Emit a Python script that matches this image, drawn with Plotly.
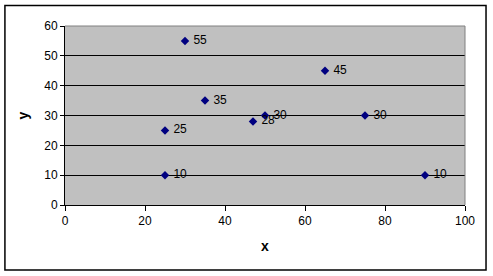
import plotly.graph_objects as go

x_vals = [25, 25, 30, 35, 47, 50, 65, 75, 90]
y_vals = [10, 25, 55, 35, 28, 30, 45, 30, 10]
point_labels = ["\u00a0" + str(v) for v in y_vals]

FONT = "Liberation Sans, Arial, sans-serif"

fig = go.Figure()
fig.add_trace(go.Scatter(
    x=x_vals, y=y_vals, mode="markers+text",
    marker=dict(symbol="diamond", size=6.5, color="#000080"),
    text=point_labels, textposition="middle right",
    textfont=dict(family=FONT, size=12, color="#000000"),
    cliponaxis=False, showlegend=False,
))

L, R, T, B = 65.5, 465, 26, 205
W, H = R - L, B - T
def px_x(p):
    return (p - L) / W
def px_y(p):
    return (B - p) / H

fig.update_layout(
    width=493, height=276,
    margin=dict(l=65, r=28, t=26, b=71, pad=0),
    paper_bgcolor="white", plot_bgcolor="#C0C0C0",
    font=dict(family=FONT, size=12, color="#000000"),
    xaxis=dict(range=[0, 100], tickvals=[0, 20, 40, 60, 80, 100],
               showgrid=False, zeroline=False, showline=True, linecolor="#000000", linewidth=1,
               ticks="outside", ticklen=5, tickcolor="#000000",
               tickfont=dict(size=12),
               title=dict(text="<b>x</b>", font=dict(size=14), standoff=13)),
    yaxis=dict(range=[0, 60], tickvals=[0, 10, 20, 30, 40, 50, 60],
               showgrid=True, gridcolor="#000000", gridwidth=1, zeroline=False,
               showline=True, linecolor="#000000", linewidth=1,
               ticks="outside", ticklen=4, tickcolor="#000000",
               tickfont=dict(size=12),
               title=dict(text="<b>y</b>", font=dict(size=14), standoff=12)),
    shapes=[
        dict(type="line", xref="paper", yref="paper", x0=0, x1=1, y0=1, y1=1,
             line=dict(color="#808080", width=1)),
        dict(type="line", xref="paper", yref="paper", x0=1, x1=1, y0=0, y1=1,
             line=dict(color="#808080", width=1)),
        dict(type="rect", xref="paper", yref="paper",
             x0=px_x(5.5), x1=px_x(486), y0=px_y(270), y1=px_y(5.5),
             line=dict(color="#000000", width=1.5), fillcolor="rgba(0,0,0,0)"),
    ],
)

fig.write_html("out.html")
